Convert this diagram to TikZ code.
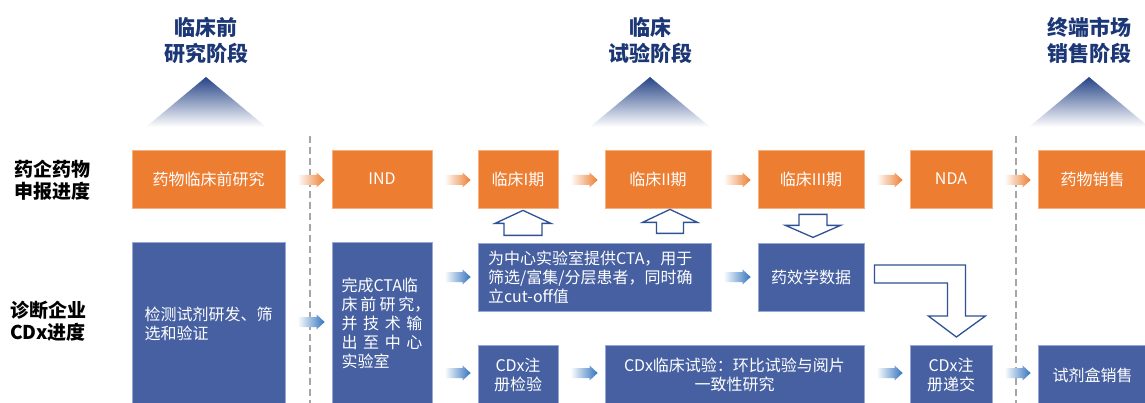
\documentclass[tikz,border=0pt]{standalone}
\usepackage{fontspec}
\setmainfont{Noto Sans CJK SC}
\usetikzlibrary{calc}
\definecolor{orng}{RGB}{237,125,49}
\definecolor{orngb}{RGB}{246,176,130}
\definecolor{bluebox}{RGB}{70,96,161}
\definecolor{blueb}{RGB}{150,168,214}
\definecolor{navy}{RGB}{28,55,118}
\definecolor{tri}{RGB}{38,68,135}
\definecolor{hol}{RGB}{47,82,150}
\definecolor{garr}{RGB}{50,116,190}
\definecolor{dashgray}{RGB}{166,166,166}
\newcommand\garrow[4]{\shade[left color=white, right color=#4] let \p1=(#1.east), \p2=(#2.west), \p3=(0,#3) in
  (\x1+12pt,\y3-5pt) -- (\x2-15pt,\y3-5pt) -- (\x2-15pt,\y3-7.5pt) -- (\x2-7pt,\y3) -- (\x2-15pt,\y3+7.5pt) -- (\x2-15pt,\y3+5pt) -- (\x1+12pt,\y3+5pt) -- cycle;}
\begin{document}
\begin{tikzpicture}[x=1pt,y=-1pt,
  box/.style={draw, line width=0.8pt, inner sep=0pt, text=white, font=\fontsize{16}{19}\selectfont, align=center},
  obox/.style={box, fill=orng, draw=orngb, minimum height=58pt},
  bbox/.style={box, fill=bluebox, draw=blueb},
  ttl/.style={text=navy, font=\fontsize{21}{26}\selectfont\bfseries, align=center},
  lab/.style={text=black, font=\fontsize{19}{22}\selectfont\bfseries, align=center},
  hollow/.style={draw=hol, line width=1.3pt, fill=white, line join=miter},
  dashline/.style={draw=dashgray, line width=1.5pt, dash pattern=on 7pt off 4pt}
]
\useasboundingbox (0,0) rectangle (1145,403);
\fill[white] (0,0) rectangle (1145,403);

% titles and triangles
\node[ttl] (t1) at (206,40) {临床前\\研究阶段};
\node[ttl] (t2) at (650,40) {临床\\试验阶段};
\node[ttl] (t3) at (1089,40) {终端市场\\销售阶段};
\shade[top color=tri, bottom color=white] (206,77) -- (266,127) -- (146,127) -- cycle;
\shade[top color=tri, bottom color=white] (650,77) -- (710,127) -- (590,127) -- cycle;
\shade[top color=tri, bottom color=white] (1089,77) -- (1149,127) -- (1029,127) -- cycle;

% row labels
\node[lab] (l1) at (52,180) {药企药物\\申报进度};
\node[lab] (l2) at (48,321) {诊断企业\\CDx进度};

% dashed separators
\draw[dashline] (310,136) -- (310,405);
\draw[dashline] (1016,136) -- (1016,405);

% top row
\node[obox, minimum width=153pt] (o1) at (208.5,179) {药物临床前研究};
\node[obox, minimum width=100pt] (o2) at (382,179) {IND};
\node[obox, minimum width=80pt] (o3) at (518,179) {临床I期};
\node[obox, minimum width=106pt] (o4) at (658,179) {临床II期};
\node[obox, minimum width=106pt] (o5) at (811,179) {临床III期};
\node[obox, minimum width=82pt] (o6) at (951,179) {NDA};
\node[obox, minimum width=109pt] (o7) at (1092.5,179) {药物销售};

% blue boxes
\node[bbox, minimum width=153pt, minimum height=163pt] (b1) at (208.5,323.5) {检测试剂研发、筛\\选和验证\hspace*{4em}};
\node[bbox, minimum width=100pt, minimum height=163pt] (b2) at (382,323.5) {\hbox to 81pt{完成CTA临\hfil}\\\hbox to 81pt{床\hfil 前\hfil 研\hfil 究\makebox[8pt][l]{，}}\\\hbox to 81pt{并\hfil 技\hfil 术\hfil 输}\\\hbox to 81pt{出\hfil 至\hfil 中\hfil 心}\\\hbox to 81pt{实验室\hfil}};
\node[bbox, minimum width=233pt, minimum height=68pt] (b3) at (594.5,277) {\hbox to 213pt{为中心实验室提供CTA，用于\hfil}\\\hbox to 213pt{筛选/富集/分层患者，同时确\hfil}\\\hbox to 213pt{立cut-off值\hfil}};
\node[bbox, minimum width=106pt, minimum height=68pt] (b4) at (811,277) {药效学数据};
\node[bbox, minimum width=80pt, minimum height=60pt] (b5) at (518,375) {CDx注\\册检验};
\node[bbox, minimum width=259pt, minimum height=60pt] (b6) at (734.5,375) {CDx临床试验：环比试验与阅片\\一致性研究};
\node[bbox, minimum width=82pt, minimum height=60pt] (b7) at (951,375) {CDx注\\册递交};
\node[bbox, minimum width=109pt, minimum height=60pt] (b8) at (1092.5,375) {试剂盒销售};

% gradient arrows
\garrow{o1}{o2}{180}{orng}
\garrow{o2}{o3}{180}{orng}
\garrow{o3}{o4}{180}{orng}
\garrow{o4}{o5}{180}{orng}
\garrow{o5}{o6}{180}{orng}
\garrow{o6}{o7}{180}{orng}
\garrow{b1}{b2}{322}{garr}
\garrow{b2}{b3}{277}{garr}
\garrow{b3}{b4}{277}{garr}
\garrow{b2}{b5}{373}{garr}
\garrow{b5}{b6}{373}{garr}
\garrow{b6}{b7}{373}{garr}
\garrow{b7}{b8}{373}{garr}

% hollow arrows
\begin{scope}[shift={($(o3.south)+(5,2)$)}]
\draw[hollow] (0,0) -- (28,13) -- (19,13) -- (19,25) -- (-19,25) -- (-19,13) -- (-28,13) -- cycle;
\end{scope}
\begin{scope}[shift={($(o4.south)+(12,1)$)}]
\draw[hollow] (0,0) -- (27.5,13) -- (13.5,13) -- (13.5,24) -- (-13.5,24) -- (-13.5,13) -- (-27.5,13) -- cycle;
\end{scope}
\begin{scope}[shift={($(o5.south)+(2,6)$)}]
\draw[hollow] (-14,0) -- (14,0) -- (14,11) -- (27.5,11) -- (0,23) -- (-27.5,11) -- (-14,11) -- cycle;
\end{scope}
\begin{scope}[shift={(b4.east)}]
\draw[hollow] (10,-12) -- (101,-12) -- (101,39) -- (121,39) -- (92,60) -- (64,39) -- (83,39) -- (83,6) -- (10,6) -- cycle;
\end{scope}
\end{tikzpicture}
\end{document}
